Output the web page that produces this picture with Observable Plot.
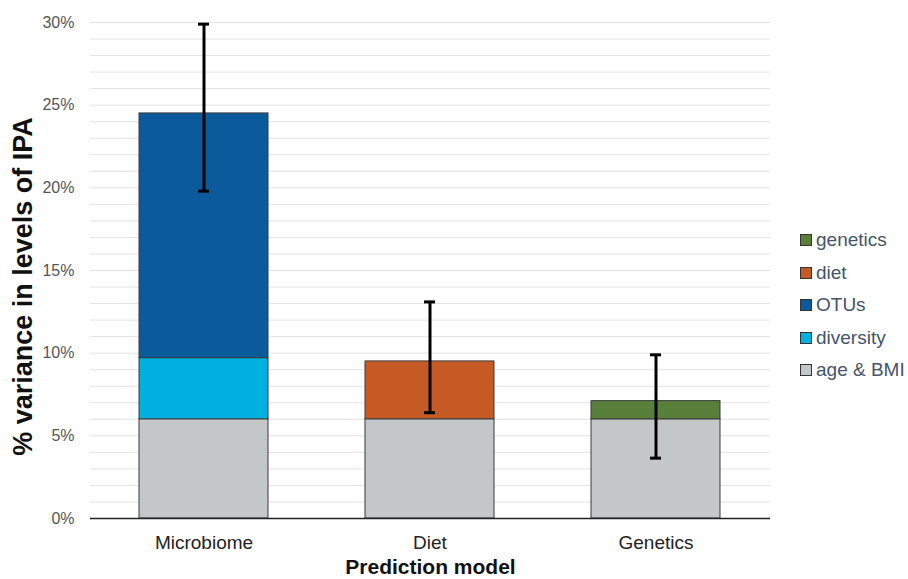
<!DOCTYPE html>
<html>
<head>
<meta charset="utf-8">
<script src="https://cdn.jsdelivr.net/npm/d3@7"></script>
<script src="https://cdn.jsdelivr.net/npm/@observablehq/plot@0.6"></script>
<style>
  body { margin: 0; background: #fff; font-family: "Liberation Sans", Arial, sans-serif; }
  #wrap { position: relative; width: 908px; height: 579px; overflow: hidden; }
  #legend { position: absolute; left: 800px; top: 224px; color: #44546a; font-size: 19px; white-space: nowrap; }
  #legend .item { display: flex; align-items: center; height: 32.5px; }
  #legend .sw { width: 12px; height: 12px; border: 1px solid #333; margin-right: 4px; box-sizing: border-box; flex: none; }
</style>
</head>
<body>
<div id="wrap"><div id="legend"></div></div>
<script>
const models = ["Microbiome", "Diet", "Genetics"];
const components = ["age & BMI", "diversity", "OTUs", "diet", "genetics"];
const colors = ["#c3c7c8", "#00b0e0", "#0b5a9c", "#c55a24", "#59803a"];
// segment values (% variance) per model
const microbiomeValues = {"age & BMI": 6.0, "diversity": 3.7, "OTUs": 14.8};
const dietValues = {"age & BMI": 6.0, "diet": 3.5};
const geneticsValues = {"age & BMI": 6.0, "genetics": 1.1};
const errLow = [19.8, 6.4, 3.65];
const errHigh = [29.9, 13.1, 9.9];
const yTicks = [0, 5, 10, 15, 20, 25, 30];
const gridTicks = d3.range(0, 31, 1);
const legendOrder = ["genetics", "diet", "OTUs", "diversity", "age & BMI"];

const perModel = [microbiomeValues, dietValues, geneticsValues];
const rows = [];
models.forEach((m, i) => {
  components.forEach(c => {
    if (perModel[i][c] !== undefined) rows.push({model: m, component: c, value: perModel[i][c]});
  });
});
const errors = models.map((m, i) => ({model: m, lo: errLow[i], hi: errHigh[i]}));

const chart = Plot.plot({
  width: 908,
  height: 579,
  marginLeft: 90,
  marginRight: 138,
  marginTop: 22,
  marginBottom: 61,
  style: {fontFamily: "Liberation Sans, Arial, sans-serif", background: "#fff"},
  x: {domain: models, paddingInner: 0.427, paddingOuter: 0.2135, label: null},
  y: {domain: [0, 30], label: null},
  color: {domain: components, range: colors},
  marks: [
    Plot.ruleY(gridTicks, {stroke: "#e2e2e2", strokeWidth: 1}),
    Plot.barY(rows, Plot.stackY({order: components}, {x: "model", y: "value", fill: "component", stroke: "#3a3a3a", strokeWidth: 1})),
    Plot.ruleY([0], {stroke: "#222", strokeWidth: 1.5}),
    Plot.ruleX(errors, {x: "model", y1: "lo", y2: "hi", stroke: "#000", strokeWidth: 3}),
    Plot.tickY(errors, {x: "model", y: "lo", stroke: "#000", strokeWidth: 3, insetLeft: 59, insetRight: 59}),
    Plot.tickY(errors, {x: "model", y: "hi", stroke: "#000", strokeWidth: 3, insetLeft: 59, insetRight: 59}),
    Plot.axisY({ticks: yTicks, tickFormat: d => d + "%", tickSize: 0, tickPadding: 16, fontSize: 16, fill: "#555", label: null}),
    Plot.axisX({tickSize: 0, tickPadding: 17, fontSize: 19, fill: "#222", label: null}),
    Plot.text(["% variance in levels of IPA"], {frameAnchor: "left", textAnchor: "middle", lineAnchor: "middle", dx: -67, dy: 16, rotate: -90, fontSize: 27, fontWeight: "bold", fill: "#111"}),
    Plot.text(["Prediction model"], {frameAnchor: "bottom", textAnchor: "middle", lineAnchor: "middle", dy: 49, fontSize: 21, fontWeight: "bold", fill: "#111"})
  ]
});
document.getElementById("wrap").prepend(chart);

const legend = document.getElementById("legend");
legendOrder.forEach(c => {
  const item = document.createElement("div");
  item.className = "item";
  const sw = document.createElement("span");
  sw.className = "sw";
  sw.style.background = colors[components.indexOf(c)];
  const t = document.createElement("span");
  t.textContent = c;
  item.appendChild(sw);
  item.appendChild(t);
  legend.appendChild(item);
});
</script>
</body>
</html>
